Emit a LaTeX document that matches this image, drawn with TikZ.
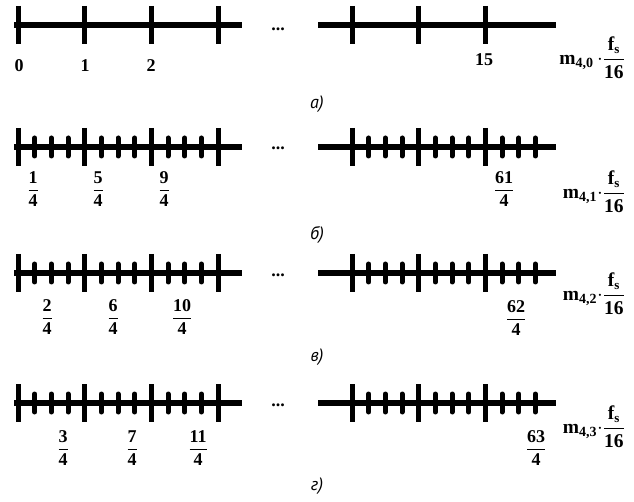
\documentclass[tikz,border=0pt]{standalone}
\usepackage{fontspec}
\setmainfont{Liberation Serif}
\newfontfamily\capfont{PT Sans}
\newcommand\fr[2]{$\displaystyle\frac{\mbox{#1}}{\mbox{#2}}$}
\newcommand\mlab[2]{$\mbox{m}_{\mbox{\fontsize{14}{14}\selectfont #1}}#2{\cdot}\displaystyle\frac{\mbox{f}_{\mbox{\fontsize{13}{13}\selectfont s}}}{\mbox{16}}$}
\begin{document}
\begin{tikzpicture}[x=1pt,y=-1pt,
  axisline/.style={line width=5.5pt},
  major/.style={line width=5pt},
  minor/.style={line width=5pt,line cap=round},
  lbl/.style={font=\fontsize{18}{18}\selectfont\bfseries,inner sep=0pt},
  mlbl/.style={font=\fontsize{19.5}{19.5}\selectfont\bfseries,inner sep=0pt,anchor=east},
  dots/.style={font=\fontsize{18}{18}\selectfont\bfseries,inner sep=0pt,anchor=base},
  captxt/.style={font=\capfont\itshape\fontsize{18}{18}\selectfont,inner sep=0pt}]
\useasboundingbox (0,0) rectangle (634,502);
% ---------- axes ----------
\foreach \y/\mn in {25/0,147/1,273/1,403/1}{
  \draw[axisline] (14,\y) -- (242,\y);
  \draw[axisline] (318,\y) -- (556,\y);
  \foreach \x in {18,84.67,151.33,218,352,418.67,485.33}
    \draw[major] (\x,\y-19) -- (\x,\y+19);
  \ifnum\mn=1
    \foreach \m in {18,84.67,151.33,352,418.67,485.33}
      \foreach \k in {1,2,3}
        \draw[minor] ({\m+16.67*\k},\y-9) -- ({\m+16.67*\k},\y+9);
  \fi
}
% ---------- ellipses ----------
\node[dots] (ea) at (278,31) {...};
\node[dots] (eb) at (278,150) {...};
\node[dots] (ec) at (278,277) {...};
\node[dots] (ed) at (278,406) {...};
% ---------- row a ----------
\node[lbl,anchor=base] (a0) at (19,72) {0};
\node[lbl,anchor=base] (a1) at (85,72) {1};
\node[lbl,anchor=base] (a2) at (151,72) {2};
\node[lbl,anchor=base] (a15) at (484,66) {15};
\node[mlbl] (ma) at (625,58) {\mlab{4,0}{\,}};
\node[captxt] (ca) at (317,104) {а)};
% ---------- row b ----------
\node[lbl] (b1) at (33,189) {\fr{1}{4}};
\node[lbl] (b5) at (98,189) {\fr{5}{4}};
\node[lbl] (b9) at (164,189) {\fr{9}{4}};
\node[lbl] (b61) at (504,189) {\fr{61}{4}};
\node[mlbl] (mb) at (625,192) {\mlab{4,1}{}};
\node[captxt] (cb) at (317,235) {б)};
% ---------- row c ----------
\node[lbl] (c2) at (47,317) {\fr{2}{4}};
\node[lbl] (c6) at (113,317) {\fr{6}{4}};
\node[lbl] (c10) at (182,317) {\fr{10}{4}};
\node[lbl] (c62) at (516,318) {\fr{62}{4}};
\node[mlbl] (mc) at (625,294) {\mlab{4,2}{}};
\node[captxt] (cc) at (317,357) {в)};
% ---------- row d ----------
\node[lbl] (d3) at (63,448) {\fr{3}{4}};
\node[lbl] (d7) at (132,448) {\fr{7}{4}};
\node[lbl] (d11) at (198,448) {\fr{11}{4}};
\node[lbl] (d63) at (536,448) {\fr{63}{4}};
\node[mlbl] (md) at (625,427) {\mlab{4,3}{}};
\node[captxt] (cd) at (317,486) {г)};
\end{tikzpicture}
\end{document}
